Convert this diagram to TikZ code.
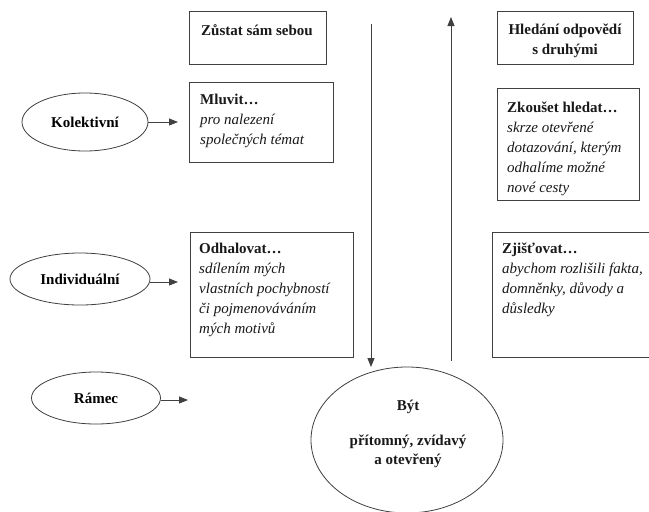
\documentclass[tikz,border=0pt]{standalone}
\usepackage{fontspec}
\setmainfont{Liberation Serif}
\usetikzlibrary{shapes.geometric,arrows.meta}
\begin{document}
\begin{tikzpicture}[x=1pt,y=-1pt,
  line/.style={draw=black!75,line width=0.8pt},
  arr/.style={line,-{Triangle[length=9pt,width=7pt]}},
  box/.style={line,rectangle,inner sep=0pt,anchor=north west},
  oval/.style={line,ellipse,inner sep=0pt,font=\fontsize{15}{20}\selectfont\bfseries},
  txt/.style={inner sep=0pt,anchor=north west,align=left,text=black!90,font=\fontsize{15}{20}\selectfont},
  ctxt/.style={inner sep=0pt,anchor=north,align=center,text=black!90,font=\fontsize{15}{20}\selectfont\bfseries},
  btxt/.style={inner sep=0pt,anchor=base,text=black!90,font=\fontsize{15}{20}\selectfont\bfseries}
]
\clip (0,0) rectangle (649,512);
\fill[white] (0,0) rectangle (649,512);

% left column boxes (text tops = first baseline - 14)
\node[box,minimum width=137pt,minimum height=53pt] (b1) at (189,11) {};
\node[ctxt] (t1) at (257,21) {\strut Zůstat sám sebou};

\node[box,minimum width=144pt,minimum height=80pt] (b2) at (189,82) {};
\node[txt] (t2) at (200,90) {\strut\textbf{Mluvit…}\\\textit{pro nalezení}\\\textit{společných témat}};

\node[box,minimum width=163pt,minimum height=125pt] (b3) at (190,232) {};
\node[txt] (t3) at (199,239) {\strut\textbf{Odhalovat…}\\\textit{sdílením mých}\\\textit{vlastních pochybností}\\\textit{či pojmenováváním}\\\textit{mých motivů}};

% right column boxes
\node[box,minimum width=136pt,minimum height=53pt] (b4) at (497,11) {};
\node[ctxt] (t4) at (565,20) {\strut Hledání odpovědí\\s druhými};

\node[box,minimum width=142pt,minimum height=112pt] (b5) at (497,88) {};
\node[txt] (t5) at (507,98) {\strut\textbf{Zkoušet hledat…}\\\textit{skrze otevřené}\\\textit{dotazování, kterým}\\\textit{odhalíme možné}\\\textit{nové cesty}};

\node[box,minimum width=170pt,minimum height=125pt] (b6) at (492,232) {};
\node[txt] (t6) at (502,239) {\strut\textbf{Zjišťovat…}\\\textit{abychom rozlišili fakta,}\\\textit{domněnky, důvody a}\\\textit{důsledky}};

% ellipses on the left
\node[oval,minimum width=126pt,minimum height=58pt] (kol) at (85,122) {Kolektivní};
\node[oval,minimum width=140pt,minimum height=52pt] (ind) at (80,279) {Individuální};
\node[oval,minimum width=129pt,minimum height=52pt] (ram) at (96,398) {Rámec};

\coordinate (kolE) at (178,122);
\coordinate (indE) at (178,282);
\coordinate (ramE) at (188,400);
\draw[arr] (kol.east |- kolE) -- (kolE);
\draw[arr] (ind.east |- indE) -- (indE);
\draw[arr] (ram.east |- ramE) -- (ramE);

% central ellipse
\node[oval,minimum width=192pt,minimum height=146pt] (byt) at (407,440) {};
\node[btxt] (tb1) at (408,410) {Být};
\node[btxt] (tb2) at (408,445) {přítomný, zvídavý};
\node[btxt] (tb3) at (408,464) {a otevřený};

% vertical arrows
\coordinate (dtop) at (371,24);
\coordinate (dbot) at (371,367);
\coordinate (ubot) at (451,361);
\coordinate (utop) at (451,17);
\draw[arr] (dtop) -- (dbot);
\draw[arr] (ubot) -- (utop);
\end{tikzpicture}
\end{document}
